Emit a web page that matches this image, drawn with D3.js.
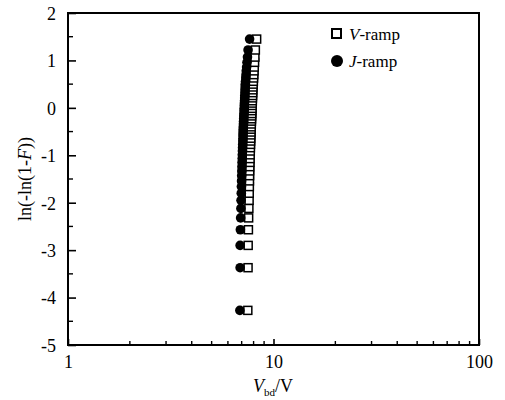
<!DOCTYPE html>
<html><head><meta charset="utf-8">
<script src="https://cdn.jsdelivr.net/npm/d3@7"></script>
<style>body{margin:0;background:#fff}svg{display:block}text{font-family:"Liberation Serif","Times New Roman",serif;fill:#000}</style>
</head><body><svg id="c" width="505" height="400"></svg>
<script>
// Weibull plot data (y = ln(-ln(1-F)), same ranks for both series)
const yValues = [-4.27,-3.37,-2.90,-2.57,-2.32,-2.12,-1.95,-1.80,-1.66,-1.54,-1.43,-1.33,-1.24,-1.15,-1.07,-0.99,-0.91,-0.84,-0.77,-0.70,-0.64,-0.57,-0.51,-0.45,-0.40,-0.34,-0.28,-0.23,-0.17,-0.12,-0.06,-0.01,0.05,0.10,0.15,0.21,0.26,0.32,0.38,0.44,0.50,0.56,0.63,0.70,0.78,0.86,0.96,1.07,1.22,1.45];
const jRampV = [6.86,6.88,6.88,6.90,6.92,6.94,6.95,6.97,6.98,6.99,7.00,7.01,7.02,7.03,7.04,7.05,7.06,7.07,7.08,7.09,7.10,7.10,7.11,7.12,7.13,7.14,7.15,7.16,7.17,7.18,7.19,7.20,7.21,7.22,7.23,7.24,7.25,7.26,7.27,7.28,7.29,7.31,7.33,7.35,7.37,7.40,7.43,7.47,7.52,7.65];
const vRampV = [7.50,7.52,7.53,7.55,7.57,7.59,7.61,7.62,7.63,7.64,7.65,7.66,7.67,7.68,7.69,7.70,7.71,7.72,7.73,7.74,7.75,7.76,7.77,7.78,7.79,7.80,7.81,7.82,7.83,7.84,7.85,7.86,7.87,7.88,7.89,7.90,7.91,7.92,7.93,7.94,7.96,7.98,8.00,8.02,8.04,8.06,8.09,8.12,8.16,8.28];
const xTicks = [1,10,100];
const xMinor = [2,3,4,5,6,7,8,9,20,30,40,50,60,70,80,90];
const yTicks = [-5,-4,-3,-2,-1,0,1,2];
const yMinor = [-4.5,-3.5,-2.5,-1.5,-0.5,0.5,1.5];

const svg = d3.select("#c");
const L=68,R=479,T=13,B=345;
const x = d3.scaleLog().domain([1,100]).range([L,R]);
const y = d3.scaleLinear().domain([-5,2]).range([B,T]);

// frame
svg.append("rect").attr("x",L).attr("y",T).attr("width",R-L).attr("height",B-T)
  .attr("fill","none").attr("stroke","#000").attr("stroke-width",2);

// bottom axis
const gx = svg.append("g").attr("transform",`translate(0,${B})`)
  .call(d3.axisBottom(x).tickValues(xTicks).tickFormat(d=>String(d)).tickSize(-6).tickPadding(10));
gx.append("g").selectAll("line").data(xMinor).join("line")
  .attr("x1",d=>x(d)).attr("x2",d=>x(d)).attr("y1",0).attr("y2",-4).attr("stroke","#000").attr("stroke-width",1.4);
// left axis
const gy = svg.append("g").attr("transform",`translate(${L},0)`)
  .call(d3.axisLeft(y).tickValues(yTicks).tickFormat(d=>String(d)).tickSize(-8).tickPadding(12));
gy.append("g").selectAll("line").data(yMinor).join("line")
  .attr("y1",d=>y(d)).attr("y2",d=>y(d)).attr("x1",0).attr("x2",5).attr("stroke","#000").attr("stroke-width",1.4);
[gx,gy].forEach(g=>{
  g.select(".domain").remove();
  g.selectAll(".tick line").attr("stroke","#000").attr("stroke-width",1.6);
  g.selectAll(".tick text").attr("font-size",18).attr("font-family","Liberation Serif");
});
gy.selectAll(".tick text").attr("dy","0.35em");

// V-ramp squares
const s=8;
svg.append("g").selectAll("rect").data(vRampV.map((v,i)=>[v,yValues[i]])).join("rect")
  .attr("x",d=>x(d[0])-s/2).attr("y",d=>y(d[1])-s/2).attr("width",s).attr("height",s)
  .attr("fill","#fff").attr("stroke","#000").attr("stroke-width",1.5);
// J-ramp circles
svg.append("g").selectAll("circle").data(jRampV.map((v,i)=>[v,yValues[i]])).join("circle")
  .attr("cx",d=>x(d[0])).attr("cy",d=>y(d[1])).attr("r",4.8).attr("fill","#000");

// legend
svg.append("rect").attr("x",332).attr("y",29).attr("width",9).attr("height",9)
  .attr("fill","#fff").attr("stroke","#000").attr("stroke-width",2);
svg.append("circle").attr("cx",337).attr("cy",61).attr("r",6).attr("fill","#000");
const l1 = svg.append("text").attr("x",349).attr("y",40).attr("font-size",17);
l1.append("tspan").attr("font-style","italic").text("V");
l1.append("tspan").text("-ramp");
const l2 = svg.append("text").attr("x",349).attr("y",67).attr("font-size",17);
l2.append("tspan").attr("font-style","italic").text("J");
l2.append("tspan").text("-ramp");

// axis titles
const xt = svg.append("text").attr("x",273).attr("y",392).attr("text-anchor","middle").attr("font-size",18);
xt.append("tspan").attr("font-style","italic").text("V");
xt.append("tspan").attr("font-size",11).attr("dy",4).text("bd");
xt.append("tspan").attr("dy",-4).text("/V");
const yt = svg.append("text").attr("transform",`translate(31,${(T+B)/2}) rotate(-90)`)
  .attr("text-anchor","middle").attr("font-size",18);
yt.append("tspan").text("ln(-ln(1-");
yt.append("tspan").attr("font-style","italic").text("F");
yt.append("tspan").text("))");
</script></body></html>
